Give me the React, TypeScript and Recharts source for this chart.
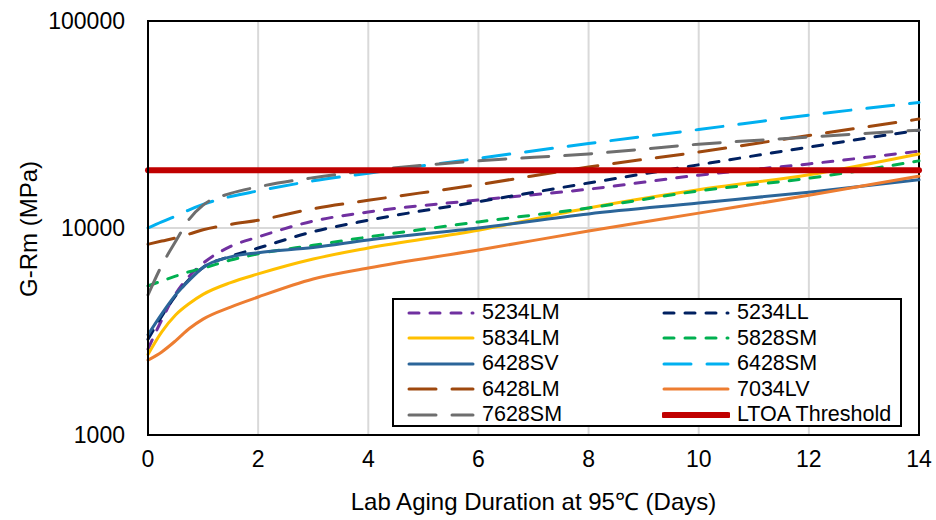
import { LineChart, Line, XAxis, YAxis, CartesianGrid, Legend, ReferenceArea } from "recharts";

// lab aging duration (days) at which values were read
const days = [0, 0.25, 0.5, 0.75, 1, 1.5, 2, 3, 4, 6, 8, 10, 12, 14];

// G-Rm (MPa) per binder
const s5234LM = [2600, 3600, 4800, 5850, 6750, 8150, 9050, 10800, 11950, 13650, 15400, 18000, 20400, 23500];
const s5234LL = [2900, 3750, 4700, 5650, 6450, 7300, 8000, 9600, 10900, 13400, 16500, 20200, 24600, 29700];
const s5834LM = [2450, 3150, 3800, 4320, 4780, 5450, 6000, 7080, 8000, 9750, 12500, 15300, 18100, 22800];
const s5828SM = [5250, 5550, 5850, 6150, 6400, 7000, 7500, 8250, 9050, 10700, 12500, 15100, 17400, 21100];
const s6428SV = [3050, 3850, 4750, 5600, 6450, 7250, 7600, 8050, 8750, 10000, 11700, 13200, 14900, 17100];
const s6428SM = [10000, 10700, 11400, 12250, 13000, 14200, 15100, 16900, 18400, 21700, 25600, 29900, 35100, 40400];
const s6428LM = [8350, 8650, 8950, 9350, 9800, 10400, 10900, 12400, 13600, 16200, 19700, 23300, 28000, 33600];
const s7034LV = [2300, 2520, 2850, 3270, 3630, 4150, 4640, 5670, 6410, 7830, 9670, 11800, 14400, 17800];
const s7628SM = [4750, 6600, 8600, 11050, 12900, 14700, 15800, 17500, 18900, 21100, 22800, 25400, 27500, 29700];
const ltoaThreshold = [19000, 19000, 19000, 19000, 19000, 19000, 19000, 19000, 19000, 19000, 19000, 19000, 19000, 19000];

const xTicks = [0, 2, 4, 6, 8, 10, 12, 14];
const yTicks = [1000, 10000, 100000];

const SHORT = "10 11";
const LONG = "27 16";

const series = [
  { key: "5234LM", values: s5234LM, color: "#7030A0", dash: SHORT, width: 3 },
  { key: "5234LL", values: s5234LL, color: "#002060", dash: SHORT, width: 3 },
  { key: "5834LM", values: s5834LM, color: "#FFC000", dash: undefined, width: 3 },
  { key: "5828SM", values: s5828SM, color: "#00B050", dash: SHORT, width: 3 },
  { key: "6428SV", values: s6428SV, color: "#2B6599", dash: undefined, width: 3 },
  { key: "6428SM", values: s6428SM, color: "#00B0F0", dash: LONG, width: 3 },
  { key: "6428LM", values: s6428LM, color: "#9E480E", dash: LONG, width: 3 },
  { key: "7034LV", values: s7034LV, color: "#ED7D31", dash: undefined, width: 3 },
  { key: "7628SM", values: s7628SM, color: "#6E6E6E", dash: LONG, width: 3 },
  { key: "LTOA Threshold", values: ltoaThreshold, color: "#C00000", dash: undefined, width: 6 },
];

const data = days.map((d, i) => {
  const row: Record<string, number> = { day: d };
  series.forEach((s) => {
    row[s.key] = s.values[i];
  });
  return row;
});

const FONT = "'Liberation Sans', Arial, sans-serif";

function LegendBox() {
  return (
    <div
      style={{
        width: 510,
        height: 129,
        boxSizing: "border-box",
        border: "2px solid #000",
        background: "#fff",
        paddingLeft: 13,
        display: "grid",
        gridTemplateColumns: "255px 235px",
        gridAutoRows: "25.5px",
        fontFamily: FONT,
        fontSize: 21.5,
        color: "#000",
      }}
    >
      {series.map((s) => (
        <div key={s.key} style={{ display: "flex", alignItems: "center", whiteSpace: "nowrap" }}>
          <svg width={68} height={10} style={{ marginRight: 7, flex: "none" }}>
            <line
              x1={2}
              y1={5}
              x2={66}
              y2={5}
              stroke={s.color}
              strokeWidth={s.width}
              strokeDasharray={s.dash}
              strokeLinecap="round"
            />
          </svg>
          <span style={{ lineHeight: 1 }}>{s.key}</span>
        </div>
      ))}
    </div>
  );
}

export default function App() {
  return (
    <div style={{ position: "absolute", left: 0, top: 0, width: 936, height: 520, background: "#fff", fontFamily: FONT }}>
      <LineChart width={936} height={520} data={data} margin={{ top: 21, right: 17, bottom: 0, left: 0 }}>
        <CartesianGrid stroke="#d9d9d9" strokeWidth={2} />
        <XAxis
          dataKey="day"
          type="number"
          domain={[0, 14]}
          ticks={xTicks}
          height={85}
          tickSize={0}
          tickMargin={16}
          axisLine={{ stroke: "#000", strokeWidth: 2 }}
          tick={{ fontSize: 23, fill: "#000" }}
          label={{
            content: (p: any) => {
              const vb = p.viewBox || { x: 148, y: 435, width: 771 };
              return (
                <text x={vb.x + vb.width / 2} y={vb.y + 75} textAnchor="middle" fontSize={24} fill="#000">
                  Lab Aging Duration at 95℃ (Days)
                </text>
              );
            },
          }}
        />
        <YAxis
          type="number"
          scale="log"
          domain={[1000, 100000]}
          allowDataOverflow
          ticks={yTicks}
          width={148}
          tickSize={0}
          tickMargin={23}
          axisLine={{ stroke: "#000", strokeWidth: 2 }}
          tick={{ fontSize: 23, fill: "#000" }}
          tickFormatter={(v: number) => String(v)}
          label={{
            content: (p: any) => {
              const vb = p.viewBox || { x: 0, y: 21, height: 414 };
              const cx = vb.x + 37;
              const cy = vb.y + vb.height / 2 + 1;
              return (
                <text x={cx} y={cy} transform={`rotate(-90 ${cx} ${cy})`} textAnchor="middle" fontSize={24} fill="#000">
                  G-Rm (MPa)
                </text>
              );
            },
          }}
        />
        <ReferenceArea x1={0} x2={14} y1={1000} y2={100000} fill="none" stroke="#000" strokeWidth={2} />
        {series.map((s) => (
          <Line
            key={s.key}
            type="monotone"
            dataKey={s.key}
            name={s.key}
            stroke={s.color}
            strokeWidth={s.width}
            strokeDasharray={s.dash}
            strokeLinecap="round"
            dot={false}
            activeDot={false}
            isAnimationActive={false}
          />
        ))}
        <Legend
          layout="vertical"
          align="center"
          verticalAlign="middle"
          wrapperStyle={{ left: 392, top: 298, width: 510 }}
          content={() => <LegendBox />}
        />
      </LineChart>
    </div>
  );
}
